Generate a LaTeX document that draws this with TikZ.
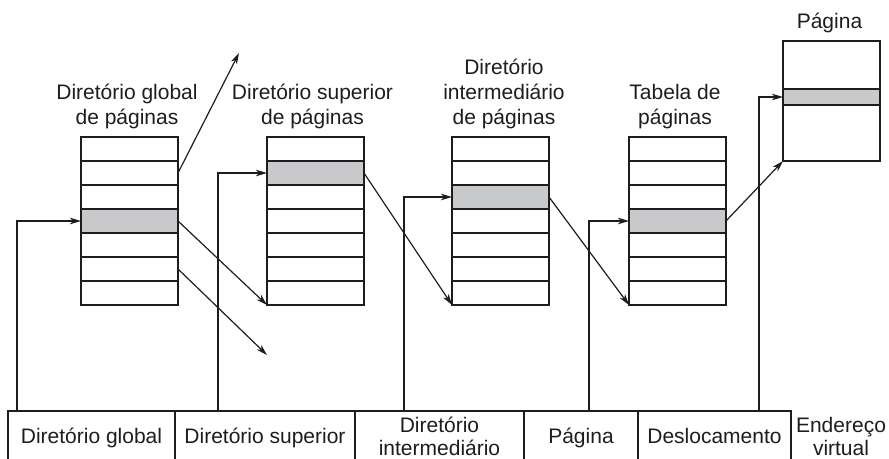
\documentclass[tikz,border=0pt]{standalone}
\usepackage{fontspec}
\setmainfont{Liberation Sans}
\usetikzlibrary{arrows.meta}
\definecolor{shade}{RGB}{200,201,203}
\definecolor{ink}{RGB}{30,28,29}
\begin{document}
\begin{tikzpicture}[x=1pt,y=-1pt,
  row/.style={draw=ink, line width=1.3pt, minimum width=97pt, minimum height=24pt,
    inner sep=0pt, outer sep=0pt, anchor=north west},
  hit/.style={row, fill=shade},
  frame/.style={draw=ink, line width=2.4pt},
  conn/.style={draw=ink, line width=1.2pt, -{Stealth[length=11pt,width=6.5pt,inset=3pt]}},
  lbl/.style={font=\fontsize{21}{25}\selectfont, text=ink, align=center, inner sep=0pt, anchor=base},
  blbl/.style={font=\fontsize{21}{23}\selectfont, text=ink, align=center, inner sep=0pt, anchor=base},
  cell/.style={draw=ink, line width=1.3pt, minimum height=70pt, inner sep=0pt, outer sep=0pt, anchor=north west},
  ]
\useasboundingbox (0,0) rectangle (889,458);

% tables
\foreach \t/\x/\h in {1/81/4, 2/267/2, 3/452/3, 4/629/4} {
  \foreach \r in {1,...,7} {
    \ifnum\r=\h
      \node[hit] (t\t-\r) at (\x,{137+24*(\r-1)}) {};
    \else
      \node[row] (t\t-\r) at (\x,{137+24*(\r-1)}) {};
    \fi
  }
  \draw[frame] (t\t-1.north west) rectangle (t\t-7.south east);
}

% page
\node[draw=ink, line width=1.4pt, minimum width=97pt, minimum height=120pt,
  inner sep=0pt, outer sep=0pt, anchor=north west] (page) at (783,41) {};
\node[draw=ink, fill=shade, line width=2.2pt, minimum width=97pt, minimum height=16pt,
  inner sep=0pt, outer sep=0pt, anchor=north west] (pline) at (783,89) {};

% labels (base anchor = baseline of last line)
\node[lbl] (l1) at (127,124) {Diretório global\\de páginas};
\node[lbl] (l2) at (312.5,124) {Diretório superior\\de páginas};
\node[lbl] (l3) at (504,124) {Diretório\\intermediário\\de páginas};
\node[lbl] (l4) at (675,124) {Tabela de\\páginas};
\node[lbl] (l5) at (829.5,28) {Página};

% address bar
\node[cell, minimum width=167pt] (f1) at (8,411) {};
\node[cell, minimum width=180pt] (f2) at (175,411) {};
\node[cell, minimum width=169pt] (f3) at (355,411) {};
\node[cell, minimum width=114pt] (f4) at (524,411) {};
\node[cell, minimum width=153pt] (f5) at (638,411) {};
\node[blbl] (x1) at (91.5,443) {Diretório global};
\node[blbl] (x2) at (265,443) {Diretório superior};
\node[blbl] (x3) at (439.5,455) {Diretório\\intermediário};
\node[blbl] (x4) at (581,443) {Página};
\node[blbl] (x5) at (714.5,443) {Deslocamento};
\node[blbl] (x6) at (841,455) {Endereço\\virtual};

% connectors from the address fields
\coordinate (s1) at (17,411);
\coordinate (s2) at (218,411);
\coordinate (s3) at (404,411);
\coordinate (s4) at (589,411);
\coordinate (s5) at (759,411);
\draw[conn] (s1) |- (t1-4.west);
\draw[conn] (s2) |- (t2-2.west);
\draw[conn] (s3) |- (t3-3.west);
\draw[conn] (s4) |- (t4-4.west);
\draw[conn] (s5) |- (pline.west);

% diagonal pointers
\coordinate (e1) at (239,53);
\coordinate (e2) at (267,355);
\draw[conn] (t1-2.east) -- (e1);
\draw[conn] (t1-4.east) -- (t2-7.south west);
\draw[conn] (t1-6.east) -- (e2);
\draw[conn] (t2-2.east) -- (t3-7.south west);
\draw[conn] (t3-3.east) -- (t4-7.south west);
\draw[conn] (t4-4.east) -- (page.south west);
\end{tikzpicture}
\end{document}
